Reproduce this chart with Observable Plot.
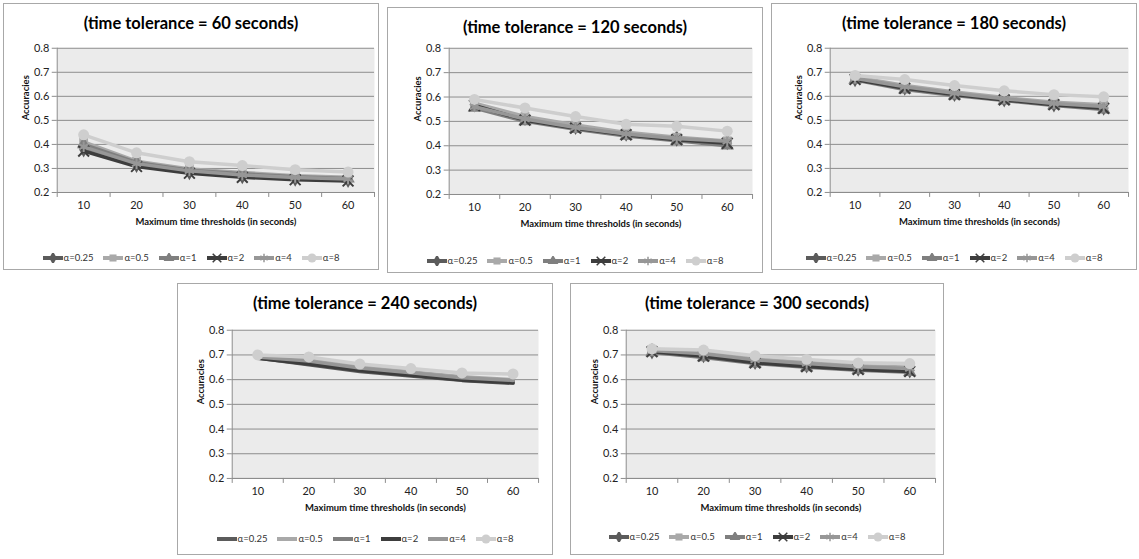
<!DOCTYPE html>
<html><head><meta charset="utf-8">
<script src="https://cdn.jsdelivr.net/npm/d3@7"></script>
<script src="https://cdn.jsdelivr.net/npm/@observablehq/plot@0.6"></script>
<style>
body{margin:0;background:#fff;font-family:Lato,"Open Sans",sans-serif;}
#root{position:relative;width:1139px;height:559px;overflow:hidden;background:#fff;}
.panel{position:absolute;box-sizing:border-box;border:1px solid #a8a8a8;background:#fff;}
.panel svg.plotsvg{position:absolute;left:-1px;top:-1px;}
.title{position:absolute;left:0;right:0;text-align:center;font-weight:700;font-size:16.5px;color:#000;line-height:20px;white-space:nowrap;}
.legend{position:absolute;left:0;right:0;display:flex;justify-content:center;align-items:center;font-size:9.5px;color:#333;line-height:12px;white-space:nowrap;}
.legend .item{display:flex;align-items:center;margin:0 5px;}
.legend svg{margin-right:1px;}
</style></head><body><div id="root"></div>
<script>
// ---- data ----
const alphas = ["α=0.25", "α=0.5", "α=1", "α=2", "α=4", "α=8"];
const thresholds = [10, 20, 30, 40, 50, 60];
const boundaries = [5, 15, 25, 35, 45, 55, 65];
const tolerances = [60, 120, 180, 240, 300];
const yTicks = [0.2, 0.3, 0.4, 0.5, 0.6, 0.7, 0.8];

const acc60 = [
  [0.380, 0.315, 0.285, 0.268, 0.258, 0.253],
  [0.410, 0.330, 0.298, 0.283, 0.270, 0.263],
  [0.400, 0.325, 0.293, 0.278, 0.265, 0.258],
  [0.372, 0.308, 0.280, 0.263, 0.253, 0.248],
  [0.390, 0.320, 0.290, 0.273, 0.262, 0.256],
  [0.440, 0.365, 0.328, 0.312, 0.295, 0.285]
];
const acc120 = [
  [0.570, 0.515, 0.478, 0.450, 0.430, 0.415],
  [0.575, 0.520, 0.485, 0.455, 0.435, 0.420],
  [0.555, 0.500, 0.468, 0.440, 0.420, 0.400],
  [0.565, 0.505, 0.472, 0.445, 0.425, 0.410],
  [0.560, 0.510, 0.475, 0.448, 0.430, 0.418],
  [0.590, 0.555, 0.520, 0.488, 0.480, 0.460]
];
const acc180 = [
  [0.672, 0.637, 0.610, 0.588, 0.567, 0.553],
  [0.680, 0.645, 0.618, 0.595, 0.575, 0.565],
  [0.668, 0.628, 0.603, 0.582, 0.562, 0.545],
  [0.670, 0.633, 0.607, 0.585, 0.565, 0.550],
  [0.675, 0.640, 0.613, 0.590, 0.570, 0.558],
  [0.687, 0.670, 0.645, 0.623, 0.607, 0.598]
];
const acc240 = [
  [0.688, 0.660, 0.633, 0.615, 0.597, 0.585],
  [0.695, 0.680, 0.652, 0.632, 0.612, 0.600],
  [0.690, 0.670, 0.643, 0.625, 0.605, 0.595],
  [0.687, 0.663, 0.637, 0.618, 0.598, 0.588],
  [0.692, 0.675, 0.647, 0.628, 0.608, 0.597],
  [0.700, 0.692, 0.663, 0.645, 0.627, 0.623]
];
const acc300 = [
  [0.715, 0.700, 0.672, 0.658, 0.645, 0.638],
  [0.722, 0.710, 0.685, 0.670, 0.657, 0.650],
  [0.710, 0.690, 0.665, 0.650, 0.638, 0.630],
  [0.713, 0.695, 0.668, 0.653, 0.641, 0.633],
  [0.718, 0.705, 0.680, 0.665, 0.652, 0.645],
  [0.725, 0.720, 0.697, 0.682, 0.668, 0.665]
];
const accAll = [acc60, acc120, acc180, acc240, acc300];

// ---- styles ----
const colors = ["#5b5b5b", "#a9a9a9", "#7f7f7f", "#3d3d3d", "#979797", "#cecece"];
const symbols = ["diamond", "square", "triangle", "times", "asterisk", "circle"];
const strokeSymbols = new Set(["times", "asterisk"]);

// ---- layout (pixels) ----
const layout = [
  {left: 3,   top: 3,   w: 376, h: 267, mL: 54, mT: 45, mR: 3,  mB: 77, legendY: 254, markers: "all"},
  {left: 387, top: 7,   w: 376, h: 266, mL: 62, mT: 41, mR: 9,  mB: 78, legendY: 253, markers: "all"},
  {left: 771, top: 3,   w: 366, h: 267, mL: 59, mT: 45, mR: 7,  mB: 77, legendY: 254, markers: "all"},
  {left: 177, top: 283, w: 376, h: 272, mL: 55, mT: 47, mR: 13, mB: 76, legendY: 255, markers: "last"},
  {left: 570, top: 283, w: 374, h: 272, mL: 56, mT: 47, mR: 7,  mB: 76, legendY: 253, markers: "all"}
];

const root = document.getElementById("root");
const axisColor = "#8c8c8c";

function swatch(i, withMarker) {
  const svg = d3.create("svg").attr("width", 20).attr("height", 10);
  svg.append("line").attr("x1", 0).attr("x2", 20).attr("y1", 5).attr("y2", 5)
    .attr("stroke", colors[i]).attr("stroke-width", 4);
  if (withMarker) {
    const typeMap = {diamond: d3.symbolDiamond, square: d3.symbolSquare, triangle: d3.symbolTriangle,
      times: d3.symbolTimes, asterisk: d3.symbolAsterisk, circle: d3.symbolCircle};
    const sym = symbols[i];
    const p = svg.append("path").attr("transform", "translate(10,5)")
      .attr("d", d3.symbol(typeMap[sym], sym === "circle" ? 64 : 50)());
    if (strokeSymbols.has(sym)) p.attr("fill", "none").attr("stroke", colors[i]).attr("stroke-width", 1.5);
    else p.attr("fill", colors[i]);
  }
  return svg.node();
}

tolerances.forEach((tol, k) => {
  const L = layout[k];
  const acc = accAll[k];
  const panel = document.createElement("div");
  panel.className = "panel";
  Object.assign(panel.style, {left: L.left + "px", top: L.top + "px", width: L.w + "px", height: L.h + "px"});

  const marks = [
    Plot.frame({fill: "#ebebeb", stroke: null}),
    Plot.gridY(yTicks, {stroke: axisColor, strokeOpacity: 1, strokeWidth: 1}),
    Plot.ruleX([5], {stroke: axisColor}),
    Plot.ruleY([0.2], {stroke: axisColor}),
    Plot.axisY(yTicks, {tickSize: 5, tickPadding: 3, tickFormat: d3.format(".1f"), stroke: axisColor, fill: "#222", label: null}),
    Plot.axisX(boundaries, {tickSize: 5, tickFormat: () => "", stroke: axisColor, label: null}),
    Plot.axisX(thresholds, {tickSize: 0, tickPadding: 9, fill: "#222", label: null}),
    Plot.text(["Maximum time thresholds (in seconds)"], {text: d => d, frameAnchor: "bottom", dy: 33, fontWeight: "bold", fontSize: 9.5, fill: "#111"}),
    Plot.text(["Accuracies"], {text: d => d, frameAnchor: "left", dx: -31, rotate: -90, fontWeight: "bold", fontSize: 9.5, fill: "#111"})
  ];

  acc.forEach((vals, i) => {
    const rows = thresholds.map((t, j) => ({t, v: vals[j]}));
    marks.push(Plot.line(rows, {x: "t", y: "v", stroke: colors[i], strokeWidth: 3.5}));
    const showMarker = L.markers === "all" || (L.markers === "last" && i === acc.length - 1);
    if (showMarker) {
      const sym = symbols[i];
      if (strokeSymbols.has(sym)) {
        marks.push(Plot.dot(rows, {x: "t", y: "v", symbol: sym, r: 5, stroke: colors[i], strokeWidth: 2, fill: "none"}));
      } else {
        marks.push(Plot.dot(rows, {x: "t", y: "v", symbol: sym, r: sym === "circle" ? 5.5 : 5, fill: colors[i], stroke: "none"}));
      }
    }
  });

  const chart = Plot.plot({
    width: L.w, height: L.h,
    marginLeft: L.mL, marginTop: L.mT, marginRight: L.mR, marginBottom: L.mB,
    x: {type: "linear", domain: [5, 65]},
    y: {type: "linear", domain: [0.2, 0.8]},
    style: {fontFamily: "Lato, 'Open Sans', sans-serif", fontSize: "11px", background: "transparent", overflow: "visible"},
    marks
  });
  chart.classList.add("plotsvg");
  panel.appendChild(chart);

  const title = document.createElement("div");
  title.className = "title";
  title.style.top = "9px";
  title.textContent = `(time tolerance = ${tol} seconds)`;
  panel.appendChild(title);

  const legend = document.createElement("div");
  legend.className = "legend";
  legend.style.top = (L.legendY - 6) + "px";
  alphas.forEach((a, i) => {
    const item = document.createElement("div");
    item.className = "item";
    const showMarker = L.markers === "all" || (L.markers === "last" && i === alphas.length - 1);
    item.appendChild(swatch(i, showMarker));
    const span = document.createElement("span");
    span.textContent = a;
    item.appendChild(span);
    legend.appendChild(item);
  });
  panel.appendChild(legend);

  root.appendChild(panel);
});
</script>
</body></html>
